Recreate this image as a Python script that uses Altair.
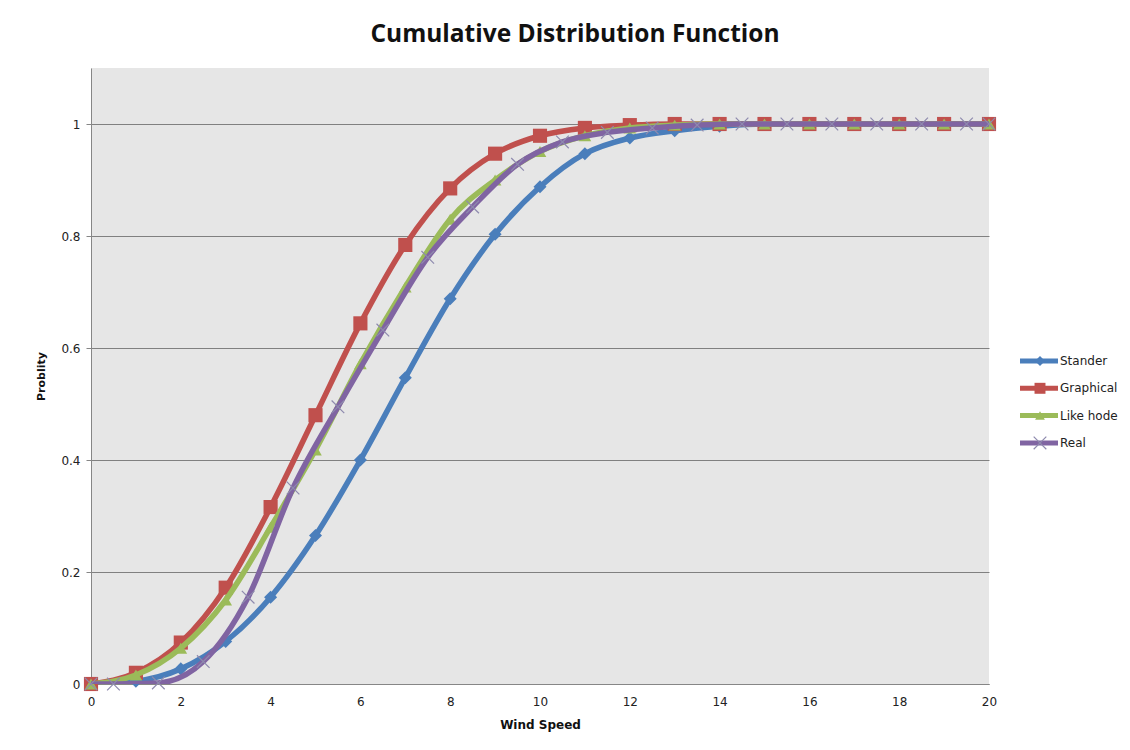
import altair as alt
import pandas as pd

# ---- data ----
x_int = list(range(21))
stander = [0, 0.005, 0.027, 0.076, 0.155, 0.265, 0.40, 0.547, 0.688, 0.803, 0.888,
           0.947, 0.975, 0.988, 0.996, 1, 1, 1, 1, 1, 1]
graphical = [0, 0.02, 0.074, 0.172, 0.316, 0.48, 0.644, 0.784, 0.885, 0.947, 0.979,
             0.993, 0.998, 1, 1, 1, 1, 1, 1, 1, 1]
likehode = [0, 0.016, 0.064, 0.15, 0.28, 0.418, 0.572, 0.709, 0.83, 0.9, 0.951,
            0.979, 0.993, 0.998, 1, 1, 1, 1, 1, 1, 1]
real_x = [0, 0.5, 1.5, 2.5, 3.5, 4.5, 5.5, 6.5, 7.5, 8.5, 9.5, 10.5, 11.5, 12.5,
          13.5, 14.5, 15.5, 16.5, 17.5, 18.5, 19.5, 20]
real = [0, 0, 0.002, 0.04, 0.155, 0.35, 0.495, 0.632, 0.762, 0.852, 0.928, 0.968,
        0.985, 0.993, 0.998, 1, 1, 1, 1, 1, 1, 1]

series_names = ["Stander", "Graphical", "Like hode", "Real"]
series_x = [x_int, x_int, x_int, real_x]
series_y = [stander, graphical, likehode, real]
colors = ["#4A7EBB", "#C0504D", "#9BBB59", "#8064A2"]
x_path = "M-1,-1L1,1M-1,1L1,-1"
shapes = ["diamond", "square", "triangle-up", x_path]
sizes = [170, 200, 160, 160]

W, H = 898, 616

xscale = alt.Scale(domain=[0, 20], nice=False, zero=False)
yscale = alt.Scale(domain=[0, 1.1], nice=False)

xaxis = alt.Axis(values=list(range(0, 21, 2)), format="d", grid=False, ticks=False,
                 labelFlush=False, labelBound=False,
                 domainColor="#868686", labelFont="DejaVu Sans", labelFontSize=12,
                 labelColor="#222222", labelPadding=12, title="Wind Speed",
                 titleFont="DejaVu Sans", titleFontSize=12, titleFontWeight="bold",
                 titleColor="#111111", titlePadding=12)
yaxis = alt.Axis(values=[0, 0.2, 0.4, 0.6, 0.8, 1.0], format="~g", grid=True,
                 gridColor="#808080", gridWidth=1, tickColor="#868686", tickSize=5,
                 labelFlush=False, labelBound=False,
                 domainColor="#868686", labelFont="DejaVu Sans", labelFontSize=12,
                 labelColor="#222222", labelPadding=6, title="Problity",
                 titleFont="DejaVu Sans", titleFontSize=11, titleFontWeight="bold",
                 titleColor="#111111", titlePadding=14)

layers = []
for i, name in enumerate(series_names):
    df = pd.DataFrame({"x": series_x[i], "y": series_y[i], "series": name})
    base = alt.Chart(df)
    enc_x = alt.X("x:Q", scale=xscale, axis=xaxis)
    enc_y = alt.Y("y:Q", scale=yscale, axis=yaxis)
    line = base.mark_line(color=colors[i], strokeWidth=5.5, interpolate="monotone",
                          clip=True).encode(x=enc_x, y=enc_y)
    if i == 3:
        pts = base.mark_point(shape=shapes[i], size=sizes[i], filled=False,
                              stroke="#8E8AAE", strokeWidth=1.2, opacity=1).encode(x=enc_x, y=enc_y)
    else:
        pts = base.mark_point(shape=shapes[i], size=sizes[i], filled=True,
                              color=colors[i], opacity=1).encode(x=enc_x, y=enc_y)
    layers += [line, pts]

# ---- manual legend (Excel style: line with marker in the middle) ----
leg_x0, leg_x1, leg_xm, leg_xt = 929, 967, 949, 969
leg_y0, leg_step = 293, 27.3
for i, name in enumerate(series_names):
    ly = leg_y0 + i * leg_step
    ldf = pd.DataFrame({"name": [name]})
    lb = alt.Chart(ldf)
    layers.append(lb.mark_rule(color=colors[i], strokeWidth=5).encode(
        x=alt.value(leg_x0), x2=alt.value(leg_x1), y=alt.value(ly)))
    if i == 3:
        layers.append(lb.mark_point(shape=shapes[i], size=sizes[i], filled=False,
                                    stroke="#8E8AAE", strokeWidth=1.2, opacity=1).encode(
            x=alt.value(leg_xm), y=alt.value(ly)))
    else:
        layers.append(lb.mark_point(shape=shapes[i], size=sizes[i] * 0.6, filled=True,
                                    color=colors[i], opacity=1).encode(
            x=alt.value(leg_xm), y=alt.value(ly)))
    layers.append(lb.mark_text(align="left", baseline="middle", font="DejaVu Sans",
                               fontSize=12, color="#222222").encode(
        x=alt.value(leg_xt), y=alt.value(ly), text="name:N"))

chart = alt.layer(*layers).properties(
    width=W, height=H,
    title=alt.TitleParams("Cumulative Distribution Function", font="Open Sans",
                          fontSize=24.5, fontWeight="bold", color="#111111",
                          anchor="middle", dx=35, offset=21),
    autosize=alt.AutoSizeParams(type="none"),
    padding={"left": 91, "top": 68, "right": 141, "bottom": 66},
    background="white",
).configure_view(fill="#E6E6E6", stroke=None)

chart.save("out.html", embed_options={"renderer": "svg", "actions": False})
